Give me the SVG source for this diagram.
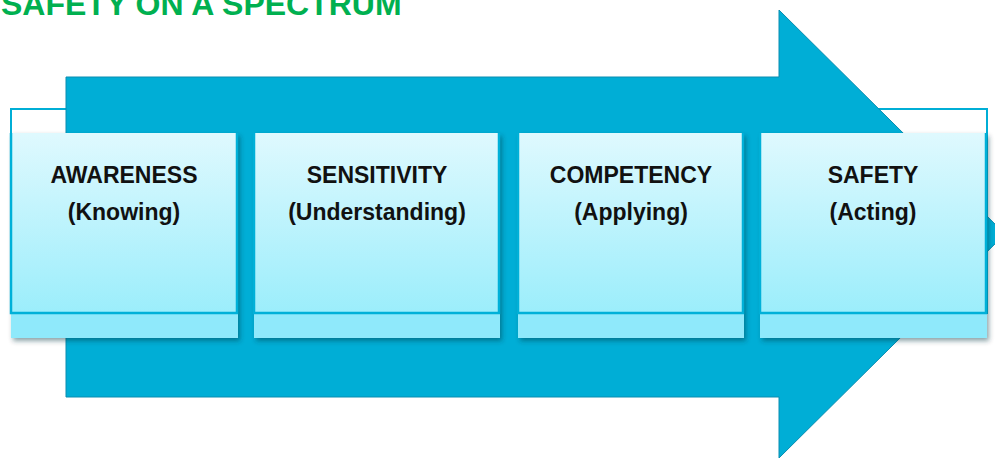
<svg xmlns="http://www.w3.org/2000/svg" width="995" height="458" viewBox="0 0 995 458">
<defs>
<style>
.back{fill:#ffffff;stroke:#00aed6;stroke-width:2}
.front{fill:url(#g);filter:url(#sh)}
.strip{fill:#8fe9fb}
.edge{fill:none;stroke:#00b0d8;stroke-width:2.5}
.t{font-family:"Liberation Sans",Arial,sans-serif;font-weight:bold;font-size:23px;fill:#111;text-anchor:middle}
</style>
<linearGradient id="g" x1="0" y1="0" x2="0" y2="1">
<stop offset="0" stop-color="#dff9fe"/>
<stop offset="1" stop-color="#92ecfb"/>
</linearGradient>
<filter id="sh" x="-10%" y="-10%" width="125%" height="130%">
<feDropShadow dx="2" dy="3" stdDeviation="2.5" flood-color="#003040" flood-opacity="0.45"/>
</filter>
</defs>
<text x="1" y="15" font-family="Liberation Sans,Arial,sans-serif" font-weight="bold" font-size="32" fill="#00b050">SAFETY ON A SPECTRUM</text>
<g id="backs">
<rect class="back" x="11" y="109" width="226" height="204"/>
<rect class="back" x="254" y="109" width="246" height="204"/>
<rect class="back" x="518" y="109" width="226" height="204"/>
<rect class="back" x="760" y="109" width="227" height="204"/>
</g>
<g id="connectors">
<path d="M66,77 H779 V10 L1005,234 L779,458 V397 H66 Z" fill="#00aed6" stroke="#0a8db0" stroke-width="1"/>
</g>
<g id="n1">
<rect class="front" x="11" y="133" width="227" height="205"/>
<rect class="strip" x="11" y="313" width="227" height="25"/>
<path class="edge" d="M11,133 V313 H237 V133"/>
<text class="t" x="124" y="183">AWARENESS</text>
<text class="t" x="124" y="220">(Knowing)</text>
</g>
<g id="n2">
<rect class="front" x="254" y="133" width="246" height="205"/>
<rect class="strip" x="254" y="313" width="246" height="25"/>
<path class="edge" d="M254,133 V313 H499 V133"/>
<text class="t" x="377" y="183">SENSITIVITY</text>
<text class="t" x="377" y="220">(Understanding)</text>
</g>
<g id="n3">
<rect class="front" x="518" y="133" width="226" height="205"/>
<rect class="strip" x="518" y="313" width="226" height="25"/>
<path class="edge" d="M518,133 V313 H743 V133"/>
<text class="t" x="631" y="183">COMPETENCY</text>
<text class="t" x="631" y="220">(Applying)</text>
</g>
<g id="n4">
<rect class="front" x="760" y="133" width="227" height="205"/>
<rect class="strip" x="760" y="313" width="227" height="25"/>
<path class="edge" d="M760,133 V313 H986 V133"/>
<text class="t" x="873" y="183">SAFETY</text>
<text class="t" x="873" y="220">(Acting)</text>
</g>
</svg>
